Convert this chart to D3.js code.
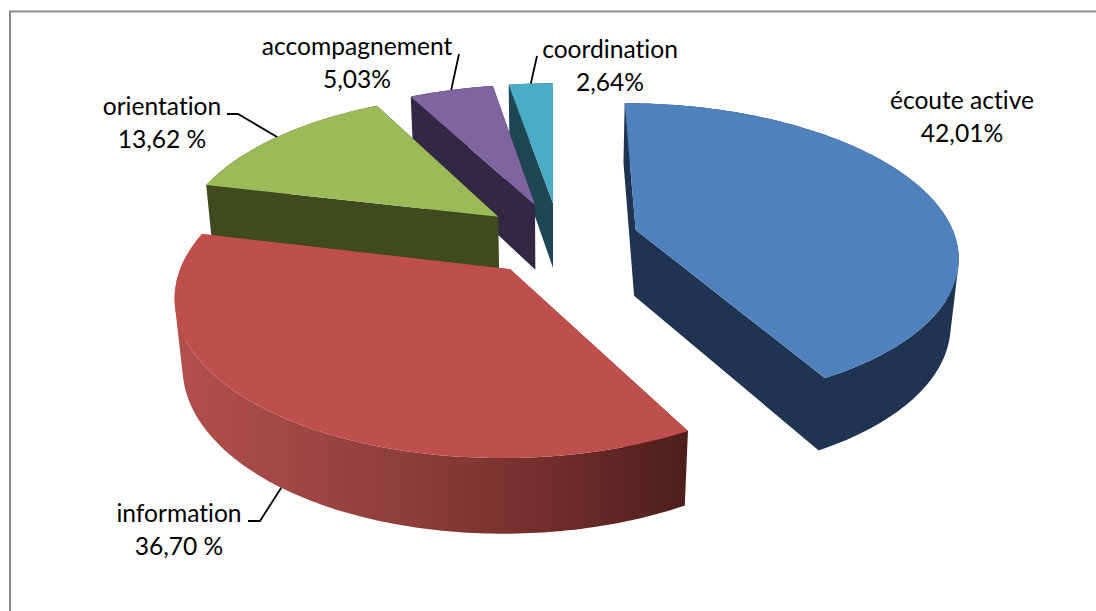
<!DOCTYPE html>
<html>
<head>
<meta charset="utf-8">
<script src="https://cdn.jsdelivr.net/npm/d3@7"></script>
<style>
  body { margin: 0; background: #fff; }
  svg { display: block; }
  text { font-family: Lato, "Open Sans", sans-serif; font-size: 24.6px; font-variant-ligatures: none; fill: #000; text-anchor: middle; }
</style>
</head>
<body>
<div id="chart"></div>
<script>
// Chart values
var categories = ["écoute active", "information", "orientation", "accompagnement", "coordination"];
var values = [42.01, 36.70, 13.62, 5.03, 2.64];
var valueLabels = ["42,01%", "36,70 %", "13,62 %", "5,03%", "2,64%"];

// Colours
var topColors = ["#4f81bd", "#bf4f4c", "#9bbb59", "#8064a2", "#4bacc6"];
var wallColors = ["#1f3450", "#4d1e1b", "#3f4a21", "#332843", "#1e4653"];

// Set up chart:
var svgWidth = 1096;
var svgHeight = 611;

// Perspective settings for the tilted pie
var vanishX = 553;
var centerY = 239;
var centerShift = 6.6;
var radius = 320;
var tilt = 149;
var perspective = 0.155;
var depth = 67.5;
var depthPerspective = 0.02;
var explode = 0.248;

// Label positions: x centre, first baseline, then the elbow of the leader line
var labelPos = [
  { x: 962, y: 109, leader: null },
  { x: 179, y: 522, leader: [[248, 521], [260, 521]], wall: true },
  { x: 162, y: 115, leader: [[227, 114], [238, 114]] },
  { x: 357, y: 55, leader: [[459, 54]] },
  { x: 610, y: 58, leader: [[537, 56]] }
];

var svg = d3.select("#chart")
  .append("svg")
  .attr("width", svgWidth)
  .attr("height", svgHeight);

// Chart frame, only top and left show in the window
svg.append("path")
  .attr("d", "M10,611V11.5H1096")
  .attr("fill", "none")
  .attr("stroke", "#8a8a8a")
  .attr("stroke-width", 2);

// Shaded side of the big red slice
var gradient = svg.append("defs").append("linearGradient")
  .attr("id", "redWall")
  .attr("gradientUnits", "userSpaceOnUse")
  .attr("x1", 175).attr("x2", 685)
  .attr("y1", 0).attr("y2", 0);
gradient.append("stop").attr("offset", "0%").attr("stop-color", "#b2504d");
gradient.append("stop").attr("offset", "45%").attr("stop-color", "#8f3e3b");
gradient.append("stop").attr("offset", "75%").attr("stop-color", "#6f2d2a");
gradient.append("stop").attr("offset", "100%").attr("stop-color", "#4d1e1b");

var pie = d3.pie().sort(null).startAngle(0).endAngle(2 * Math.PI);
var arcs = pie(values);

// Screen position of a point of a slice. r is 0 at the slice tip, 1 on the rim
function project(d, angle, r, low) {
  var mid = (d.startAngle + d.endAngle) / 2;
  var wx = centerShift + radius * (explode * Math.sin(mid) + r * Math.sin(angle));
  var wy = explode * Math.cos(mid) + r * Math.cos(angle);
  var w = 1 + perspective * wy + (low ? depthPerspective : 0);
  return [
    vanishX + wx / w,
    centerY - (tilt * wy - (low ? depth : 0)) / w
  ];
}

function rim(d, low) {
  var n = Math.max(8, Math.ceil((d.endAngle - d.startAngle) * 60));
  return d3.range(n + 1).map(function(i) {
    return project(d, d.startAngle + (d.endAngle - d.startAngle) * i / n, 1, low);
  });
}

var line = d3.line();

// Same winding for every quad, otherwise the fold at the sides cancels out
function quad(points) {
  return line(d3.polygonArea(points) < 0 ? points.slice().reverse() : points) + "Z";
}

// Paint from the back slice to the front one, the blue slice stands apart
var drawOrder = [4, 3, 2, 1, 0];

drawOrder.forEach(function(i) {
  var d = arcs[i];
  var g = svg.append("g");
  var tipTop = project(d, 0, 0, false);
  var tipLow = project(d, 0, 0, true);
  var upper = rim(d, false);
  var lower = rim(d, true);

  // Flat cut faces and outer wall go in one path so no seams show
  var wall = [d.startAngle, d.endAngle].map(function(a) {
    return quad([tipTop, project(d, a, 1, false), project(d, a, 1, true), tipLow]);
  });
  d3.pairs(d3.range(upper.length)).forEach(function(p) {
    wall.push(quad([upper[p[0]], upper[p[1]], lower[p[1]], lower[p[0]]]));
  });

  g.append("path")
    .attr("d", wall.join(""))
    .attr("fill", i === 1 ? "url(#redWall)" : wallColors[i]);

  // Top surface
  g.append("path")
    .attr("d", line([tipTop].concat(upper)) + "Z")
    .attr("fill", topColors[i]);
});

// Leader lines end on the slice at its middle angle
arcs.forEach(function(d, i) {
  var pos = labelPos[i];
  if (!pos.leader) return;
  var mid = (d.startAngle + d.endAngle) / 2;
  svg.append("path")
    .attr("d", line(pos.leader.concat([project(d, mid, 1, !!pos.wall)])))
    .attr("fill", "none")
    .attr("stroke", "#000")
    .attr("stroke-width", 1.8);
});

// Labels
categories.forEach(function(name, i) {
  var label = svg.append("text");
  label.append("tspan").attr("x", labelPos[i].x).attr("y", labelPos[i].y).text(name);
  label.append("tspan").attr("x", labelPos[i].x).attr("y", labelPos[i].y + 33).text(valueLabels[i]);
});
</script>
</body>
</html>
